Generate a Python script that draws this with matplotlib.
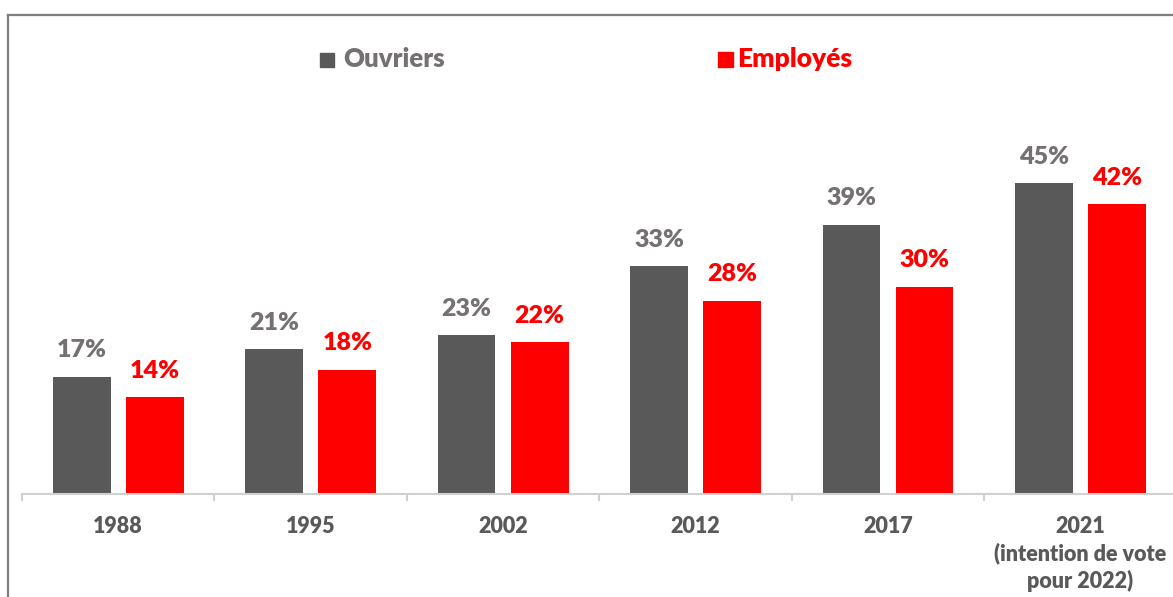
import numpy as np
import matplotlib.pyplot as plt
from matplotlib.lines import Line2D
from matplotlib.patches import Rectangle

annees = ['1988', '1995', '2002', '2012', '2017', '2021\n(intention de vote\npour 2022)']
ouvriers = [17, 21, 23, 33, 39, 45]
employes = [14, 18, 22, 28, 30, 42]

gris = '#595959'
rouge = '#FF0000'
gris_txt = '#767171'
poids = 800

plt.rcParams['font.family'] = ['Lato', 'DejaVu Sans']

W, H = 1173, 597
fig = plt.figure(figsize=(W / 100, H / 100), dpi=100)
# axes: baseline at 494 px from top, top at 15 px
ax = fig.add_axes([22 / W, 103 / H, (W - 22) / W, (494 - 15) / H])

x = np.arange(len(annees))
bw = 0.30
off = 0.19
ax.bar(x - off, ouvriers, bw, color=gris)
ax.bar(x + off, employes, bw, color=rouge)

for xi, v in zip(x, ouvriers):
    ax.text(xi - off, v + 2.2, f'{v}%', ha='center', va='bottom',
            fontsize=18, color=gris_txt, fontweight=poids)
for xi, v in zip(x, employes):
    ax.text(xi + off, v + 2.2, f'{v}%', ha='center', va='bottom',
            fontsize=18, color=rouge, fontweight=poids)

ax.set_xlim(-0.5, (W - 118) / 192.5)
ax.set_ylim(0, 479 / 6.91)

for s in ['top', 'right', 'left']:
    ax.spines[s].set_visible(False)
ax.spines['bottom'].set_color('#D0D0D0')
ax.spines['bottom'].set_linewidth(1.5)
ax.set_yticks([])

ax.set_xticks(x)
ax.set_xticklabels(annees, fontsize=15.5, fontweight=poids, color=gris,
                   linespacing=1.3)
ax.tick_params(axis='x', which='major', length=0, pad=16)
ax.set_xticks(np.arange(len(annees)) - 0.5, minor=True)
ax.tick_params(axis='x', which='minor', length=5, width=1.5, color='#D0D0D0')

# legend
fig.patches.append(Rectangle((320 / W, 1 - 67 / H), 14 / W, 14 / H,
                             transform=fig.transFigure, color=gris))
fig.text(343 / W, 1 - 59 / H, 'Ouvriers', ha='left', va='center',
         fontsize=18.5, fontweight=poids, color=gris_txt)
fig.patches.append(Rectangle((718 / W, 1 - 67 / H), 15 / W, 15 / H,
                             transform=fig.transFigure, color=rouge))
fig.text(737 / W, 1 - 59 / H, 'Employés', ha='left', va='center',
         fontsize=19, fontweight=poids, color=rouge)

# outer frame (top and left)
fig.add_artist(Line2D([8 / W, 1], [1 - 15 / H, 1 - 15 / H], color='#7F7F7F',
                      lw=1.6, transform=fig.transFigure))
fig.add_artist(Line2D([8 / W, 8 / W], [0, 1 - 15 / H], color='#7F7F7F',
                      lw=1.6, transform=fig.transFigure))

fig.savefig('out.png', dpi=100)
